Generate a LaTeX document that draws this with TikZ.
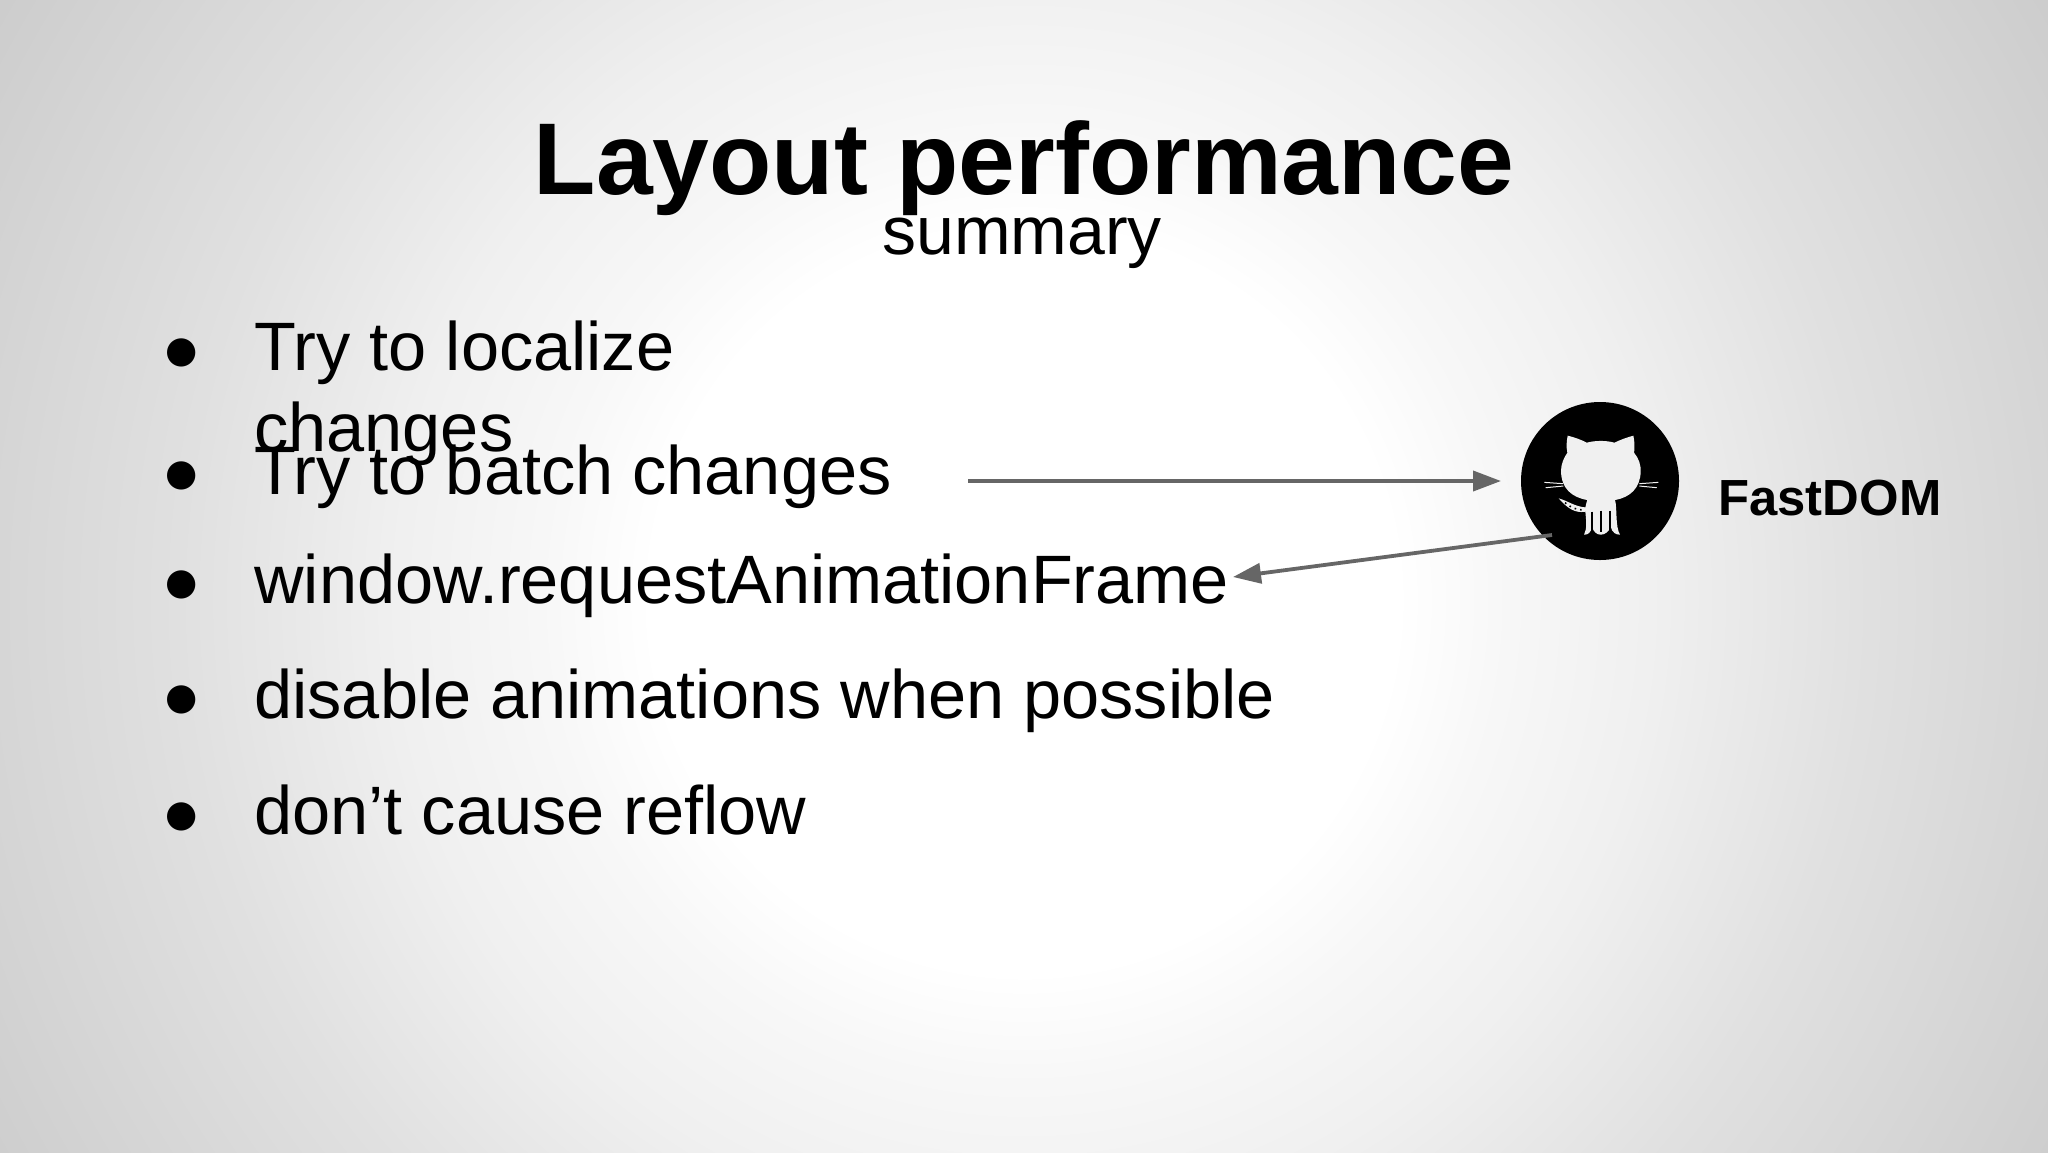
\documentclass[tikz,border=0pt]{standalone}
\usepackage{fontspec}
\setmainfont{Liberation Sans}
\newfontfamily\symfont{DejaVu Sans}
\usetikzlibrary{arrows.meta}
\definecolor{inkblack}{HTML}{000000}
\definecolor{arrowgray}{HTML}{666666}
\definecolor{catwhite}{HTML}{F0F0F0}
\pgfdeclareradialshading{slidebg}{\pgfpoint{0bp}{0bp}}{
  color(0bp)=(white);
  color(6.2bp)=(white);
  color(8bp)=(white!97!black);
  color(10.5bp)=(white!94!black);
  color(14bp)=(white!88!black);
  color(17bp)=(white!84!black);
  color(20bp)=(white!80!black);
  color(25bp)=(white!77!black);
  color(50bp)=(white!77!black)}
\tikzset{
  x=0.5pt,y=-0.5pt,
  titletext/.style={anchor=base,inner sep=0,text=inkblack,font=\fontsize{51}{51}\selectfont\bfseries},
  subtext/.style={anchor=base,inner sep=0,text=inkblack,font=\fontsize{34}{34}\selectfont},
  itemtext/.style={anchor=base west,inner sep=0,text=inkblack,font=\fontsize{34.25}{34.25}\selectfont},
  bullettext/.style={anchor=base,inner sep=0,text=inkblack,font=\symfont\fontsize{18.5}{18.5}\selectfont},
  labeltext/.style={anchor=base west,inner sep=0,text=inkblack,font=\fontsize{25.4}{25.4}\selectfont\bfseries},
  connector/.style={draw=arrowgray,line width=1.9pt,-{Triangle[length=14pt,width=10pt]}},
  badge/.style={circle,fill=black,inner sep=0,minimum size=79pt},
}
\begin{document}
\begin{tikzpicture}
\useasboundingbox (0,0) rectangle (2048,1152);
\begin{scope}
\clip (0,0) rectangle (2048,1152);
\path[shading=slidebg] (1024,600) ++(-1500,-1500) rectangle ++(3000,3000);
\end{scope}
\node[titletext] (title) at (1024,194) {Layout performance};
\node[subtext] (subtitle) at (1022,254) {summary};
\node[bullettext] (b1) at (182,362) {●};
\node[bullettext] (b2) at (182,485) {●};
\node[bullettext] (b3) at (182,594) {●};
\node[bullettext] (b4) at (182,709) {●};
\node[bullettext] (b5) at (182,826) {●};
\node[itemtext] (t1) at (254,370) {Try to localize};
\node[itemtext] (t1b) at (254,451) {changes};
\node[itemtext] (t2) at (254,494) {Try to batch changes};
\node[itemtext] (t3) at (254,603) {window.requestAnimationFrame};
\node[itemtext] (t4) at (254,718) {disable animations when possible};
\node[itemtext] (t5) at (254,834) {don’t cause reflow};
\node[labeltext] (fastdom) at (1718,515) {FastDOM};
\node[badge] (gh) at (1600,481) {};
% cat, in a local frame
\begin{scope}[shift={(1480,380)},x=0.1667pt,y=-0.1667pt]
\fill[catwhite] (263,167) .. controls (285,172) and (305,180) .. (320,188)
  .. controls (345,181) and (380,181) .. (403,188)
  .. controls (420,180) and (440,172) .. (460,167)
  .. controls (464,185) and (464,205) .. (462,218)
  .. controls (476,235) and (483,255) .. (482,275)
  .. controls (480,325) and (450,352) .. (405,360)
  .. controls (412,385) and (405,440) .. (420,464)
  .. controls (408,464) and (396,458) .. (392,440)
  .. controls (386,455) and (375,464) .. (362,464)
  .. controls (350,464) and (340,455) .. (336,440)
  .. controls (332,458) and (325,464) .. (312,464)
  .. controls (322,445) and (318,420) .. (316,395)
  .. controls (285,400) and (262,385) .. (236,355)
  .. controls (262,362) and (285,380) .. (316,382)
  .. controls (318,372) and (320,365) .. (322,360)
  .. controls (275,352) and (243,325) .. (243,272)
  .. controls (243,252) and (252,232) .. (262,218)
  .. controls (258,200) and (260,182) .. (263,167) -- cycle;
\draw[black,line width=1pt] (337,395) -- (337,452) (363,392) -- (363,455) (390,392) -- (390,452);
\draw[black,line width=0.8pt,dotted] (255,368) .. controls (270,382) and (290,390) .. (316,390);
\draw[catwhite,line width=0.5pt] (193,307) -- (250,311) (197,323) -- (250,318)
  (478,311) -- (535,307) (478,318) -- (530,323);
\end{scope}
\coordinate (batchend) at (968,481);
\coordinate (frameend) at (1552,535);
\draw[connector] (batchend) -- (1501,481);
\draw[connector] (frameend) -- (1233,577);
\end{tikzpicture}
\end{document}
